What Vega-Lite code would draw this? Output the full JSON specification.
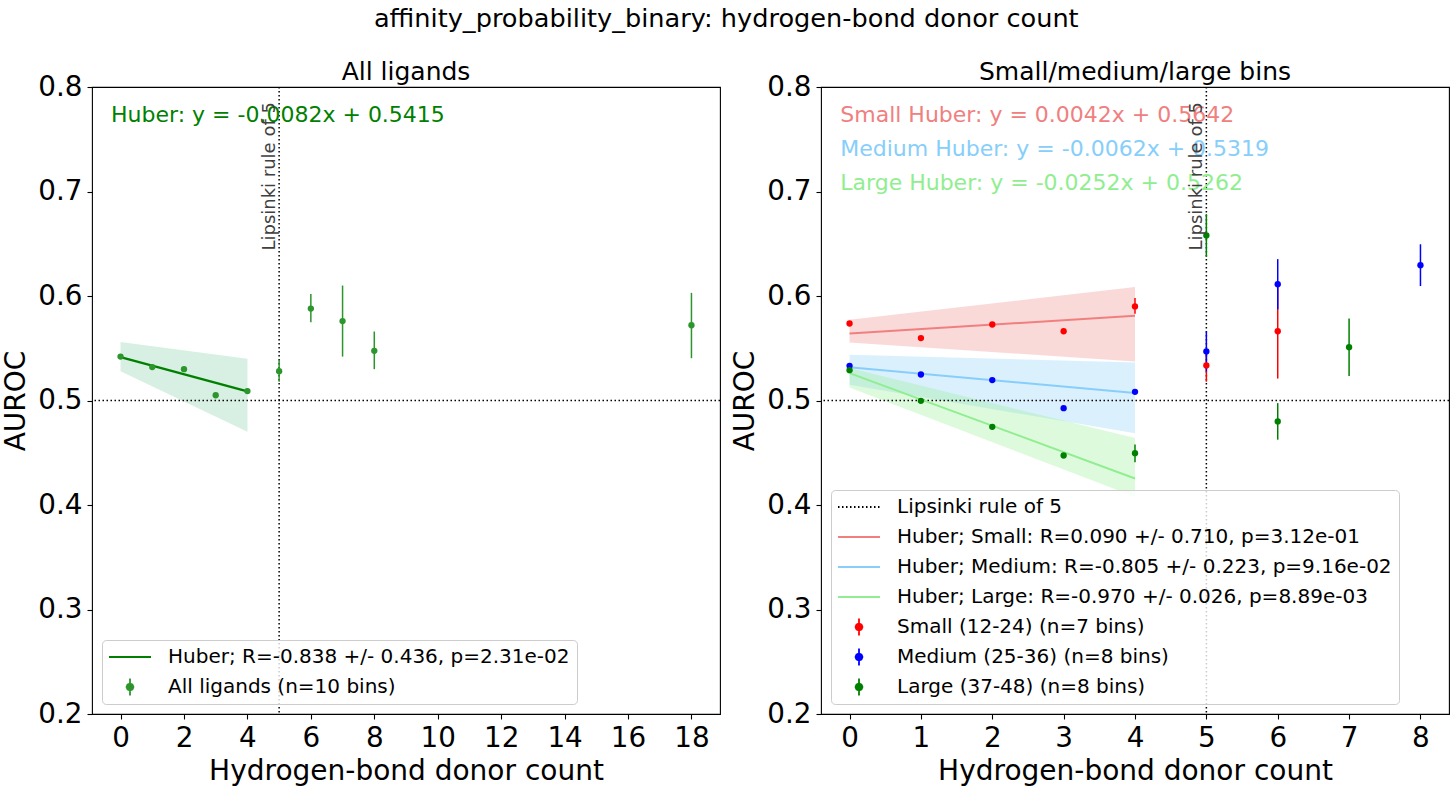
{
  "$schema": "https://vega.github.io/schema/vega-lite/v6.json",
  "padding": {"left": 2, "top": 6, "right": 5, "bottom": 2},
  "title": {
    "text": "affinity_probability_binary: hydrogen-bond donor count",
    "fontSize": 25.6,
    "fontWeight": "normal",
    "anchor": "middle",
    "offset": 27
  },
  "config": {
    "font": "DejaVu Sans",
    "background": "white",
    "view": {"stroke": "black", "strokeWidth": 1.1},
    "axis": {
      "grid": false,
      "domain": false,
      "tickColor": "black",
      "tickSize": 5,
      "tickWidth": 1.1,
      "labelFontSize": 27.8,
      "labelColor": "black",
      "labelPadding": 5,
      "labelFlush": false,
      "labelOverlap": false,
      "titleFontSize": 28,
      "titleFontWeight": "normal",
      "titleColor": "black"
    },
    "axisX": {"titlePadding": 6},
    "axisY": {"titlePadding": 7},
    "title": {"fontSize": 25, "fontWeight": "normal", "color": "black"}
  },
  "spacing": 9,
  "resolve": {
    "scale": {"color": "independent", "fill": "independent"},
    "legend": {"color": "independent"}
  },
  "hconcat": [
    {
      "width": 628,
      "height": 627,
      "title": {"text": "All ligands", "offset": -12},
      "data": {
        "values": [
          {"kind": "band", "x": 0, "lo": 0.528, "hi": 0.556},
          {"kind": "band", "x": 4, "lo": 0.470, "hi": 0.540},
          {"kind": "fit", "x": 0, "y": 0.5415, "legend": "Huber; R=-0.838 +/- 0.436, p=2.31e-02"},
          {"kind": "fit", "x": 4, "y": 0.5087, "legend": "Huber; R=-0.838 +/- 0.436, p=2.31e-02"},
          {"kind": "pt", "x": 0, "y": 0.542, "lo": 0.540, "hi": 0.544, "legend": "All ligands (n=10 bins)"},
          {"kind": "pt", "x": 1, "y": 0.532, "lo": 0.530, "hi": 0.534, "legend": "All ligands (n=10 bins)"},
          {"kind": "pt", "x": 2, "y": 0.530, "lo": 0.528, "hi": 0.532, "legend": "All ligands (n=10 bins)"},
          {"kind": "pt", "x": 3, "y": 0.505, "lo": 0.503, "hi": 0.507, "legend": "All ligands (n=10 bins)"},
          {"kind": "pt", "x": 4, "y": 0.509, "lo": 0.507, "hi": 0.511, "legend": "All ligands (n=10 bins)"},
          {"kind": "pt", "x": 5, "y": 0.528, "lo": 0.518, "hi": 0.539, "legend": "All ligands (n=10 bins)"},
          {"kind": "pt", "x": 6, "y": 0.588, "lo": 0.575, "hi": 0.602, "legend": "All ligands (n=10 bins)"},
          {"kind": "pt", "x": 7, "y": 0.576, "lo": 0.542, "hi": 0.610, "legend": "All ligands (n=10 bins)"},
          {"kind": "pt", "x": 8, "y": 0.5475, "lo": 0.530, "hi": 0.566, "legend": "All ligands (n=10 bins)"},
          {"kind": "pt", "x": 18, "y": 0.572, "lo": 0.5405, "hi": 0.603, "legend": "All ligands (n=10 bins)"},
          {"kind": "eq", "x": -0.30, "y": 0.7668, "label": "Huber: y = -0.0082x + 0.5415"}
        ]
      },
      "layer": [
        {
          "transform": [{"filter": "datum.kind == 'band'"}],
          "mark": {"type": "area", "color": "#3cb371", "opacity": 0.2},
          "encoding": {
            "x": {
              "field": "x", "type": "quantitative",
              "scale": {"domain": [-0.9, 18.9], "nice": false, "zero": false},
              "axis": {"values": [0, 2, 4, 6, 8, 10, 12, 14, 16, 18], "format": "d", "title": "Hydrogen-bond donor count"}
            },
            "y": {
              "field": "lo", "type": "quantitative", "stack": null,
              "scale": {"domain": [0.2, 0.8], "nice": false, "zero": false},
              "axis": {"values": [0.2, 0.3, 0.4, 0.5, 0.6, 0.7, 0.8], "format": ".1f", "title": "AUROC"}
            },
            "y2": {"field": "hi"}
          }
        },
        {
          "data": {"values": [{"ref": 0.5}]},
          "mark": {"type": "rule", "color": "black", "strokeDash": [1.5, 2.5], "strokeWidth": 1.5},
          "encoding": {"y": {"field": "ref", "type": "quantitative"}}
        },
        {
          "data": {"values": [{"ref": 5}]},
          "mark": {"type": "rule", "color": "black", "strokeDash": [1.5, 2.5], "strokeWidth": 1.5},
          "encoding": {"x": {"field": "ref", "type": "quantitative"}}
        },
        {
          "transform": [{"filter": "datum.kind == 'fit'"}],
          "mark": {"type": "line", "strokeWidth": 2.5},
          "encoding": {
            "x": {"field": "x", "type": "quantitative"},
            "y": {"field": "y", "type": "quantitative"},
            "color": {
              "field": "legend", "type": "nominal",
              "scale": {
                "domain": ["Huber; R=-0.838 +/- 0.436, p=2.31e-02", "All ligands (n=10 bins)"],
                "range": ["#008000", "#2c962c"]
              },
              "legend": {
                "title": null,
                "orient": "bottom-left",
                "direction": "vertical",
                "offset": 10,
                "padding": 7,
                "fillColor": "rgba(255,255,255,0.8)",
                "strokeColor": "#cccccc",
                "cornerRadius": 4,
                "labelFontSize": 20,
                "labelColor": "black",
                "labelLimit": 2000,
                "symbolSize": 100,
                "symbolStrokeWidth": 1.8,
                "symbolOffset": 11,
                "labelOffset": 28,
                "rowPadding": 10,
                "encode": {
                  "symbols": {
                    "update": {
                      "shape": {"signal": "indexof(datum.value, 'Huber') == 0 ? 'M-4.2,0H4.2' : 'M0,-1.7V1.7M0.7,0L0.495,0.495L0,0.7L-0.495,0.495L-0.7,0L-0.495,-0.495L0,-0.7L0.495,-0.495Z'"},
                      "strokeJoin": {"value": "round"},
                      "stroke": {"signal": "indexof(datum.value, 'Huber') == 0 ? '#008000' : '#2c962c'"},
                      "fill": {"signal": "indexof(datum.value, 'Huber') == 0 ? '#008000' : '#2c962c'"},
                      "opacity": {"value": 1}
                    }
                  }
                }
              }
            }
          }
        },
        {
          "transform": [{"filter": "datum.kind == 'pt'"}],
          "mark": {"type": "rule", "strokeWidth": 1.5},
          "encoding": {
            "x": {"field": "x", "type": "quantitative"},
            "y": {"field": "lo", "type": "quantitative"},
            "y2": {"field": "hi"},
            "color": {"field": "legend", "type": "nominal"}
          }
        },
        {
          "transform": [{"filter": "datum.kind == 'pt'"}],
          "mark": {"type": "circle", "size": 40, "opacity": 1},
          "encoding": {
            "x": {"field": "x", "type": "quantitative"},
            "y": {"field": "y", "type": "quantitative"},
            "color": {"field": "legend", "type": "nominal"}
          }
        },
        {
          "transform": [{"filter": "datum.kind == 'eq'"}],
          "mark": {"type": "text", "align": "left", "baseline": "alphabetic", "fontSize": 22, "color": "#008000"},
          "encoding": {
            "x": {"field": "x", "type": "quantitative"},
            "y": {"field": "y", "type": "quantitative"},
            "text": {"field": "label"}
          }
        },
        {
          "data": {"values": [{"x": 5, "y": 0.7856, "label": "Lipsinki rule of 5"}]},
          "mark": {"type": "text", "angle": 270, "align": "right", "baseline": "alphabetic", "dy": -4, "fontSize": 18, "color": "#404040"},
          "encoding": {
            "x": {"field": "x", "type": "quantitative"},
            "y": {"field": "y", "type": "quantitative"},
            "text": {"field": "label"}
          }
        }
      ]
    },
    {
      "width": 628,
      "height": 627,
      "title": {"text": "Small/medium/large bins", "offset": -12},
      "data": {
        "values": [
          {"kind": "band", "grp": "Small", "x": 0, "lo": 0.5555, "hi": 0.5772},
          {"kind": "band", "grp": "Small", "x": 4, "lo": 0.5373, "hi": 0.6085},
          {"kind": "band", "grp": "Medium", "x": 0, "lo": 0.515, "hi": 0.5437},
          {"kind": "band", "grp": "Medium", "x": 4, "lo": 0.4687, "hi": 0.5364},
          {"kind": "band", "grp": "Large", "x": 0, "lo": 0.5124, "hi": 0.531},
          {"kind": "band", "grp": "Large", "x": 4, "lo": 0.408, "hi": 0.464},
          {"kind": "vline", "x": 5, "legend": "Lipsinki rule of 5"},
          {"kind": "fit", "x": 0, "y": 0.5642, "legend": "Huber; Small: R=0.090 +/- 0.710, p=3.12e-01"},
          {"kind": "fit", "x": 4, "y": 0.5810, "legend": "Huber; Small: R=0.090 +/- 0.710, p=3.12e-01"},
          {"kind": "fit", "x": 0, "y": 0.5319, "legend": "Huber; Medium: R=-0.805 +/- 0.223, p=9.16e-02"},
          {"kind": "fit", "x": 4, "y": 0.5071, "legend": "Huber; Medium: R=-0.805 +/- 0.223, p=9.16e-02"},
          {"kind": "fit", "x": 0, "y": 0.5262, "legend": "Huber; Large: R=-0.970 +/- 0.026, p=8.89e-03"},
          {"kind": "fit", "x": 4, "y": 0.4254, "legend": "Huber; Large: R=-0.970 +/- 0.026, p=8.89e-03"},
          {"kind": "pt", "x": 0, "y": 0.5737, "lo": 0.5717, "hi": 0.5757, "legend": "Small (12-24) (n=7 bins)"},
          {"kind": "pt", "x": 1, "y": 0.5597, "lo": 0.5577, "hi": 0.5617, "legend": "Small (12-24) (n=7 bins)"},
          {"kind": "pt", "x": 2, "y": 0.5727, "lo": 0.5707, "hi": 0.5747, "legend": "Small (12-24) (n=7 bins)"},
          {"kind": "pt", "x": 3, "y": 0.5663, "lo": 0.5643, "hi": 0.5683, "legend": "Small (12-24) (n=7 bins)"},
          {"kind": "pt", "x": 4, "y": 0.590, "lo": 0.583, "hi": 0.598, "legend": "Small (12-24) (n=7 bins)"},
          {"kind": "pt", "x": 5, "y": 0.5335, "lo": 0.518, "hi": 0.549, "legend": "Small (12-24) (n=7 bins)"},
          {"kind": "pt", "x": 6, "y": 0.5663, "lo": 0.521, "hi": 0.611, "legend": "Small (12-24) (n=7 bins)"},
          {"kind": "pt", "x": 0, "y": 0.5332, "lo": 0.5312, "hi": 0.5352, "legend": "Medium (25-36) (n=8 bins)"},
          {"kind": "pt", "x": 1, "y": 0.5249, "lo": 0.5229, "hi": 0.5269, "legend": "Medium (25-36) (n=8 bins)"},
          {"kind": "pt", "x": 2, "y": 0.5195, "lo": 0.5175, "hi": 0.5215, "legend": "Medium (25-36) (n=8 bins)"},
          {"kind": "pt", "x": 3, "y": 0.4927, "lo": 0.4907, "hi": 0.4947, "legend": "Medium (25-36) (n=8 bins)"},
          {"kind": "pt", "x": 4, "y": 0.5083, "lo": 0.5063, "hi": 0.5103, "legend": "Medium (25-36) (n=8 bins)"},
          {"kind": "pt", "x": 5, "y": 0.5469, "lo": 0.528, "hi": 0.566, "legend": "Medium (25-36) (n=8 bins)"},
          {"kind": "pt", "x": 6, "y": 0.6113, "lo": 0.5873, "hi": 0.6353, "legend": "Medium (25-36) (n=8 bins)"},
          {"kind": "pt", "x": 8, "y": 0.6295, "lo": 0.6095, "hi": 0.6495, "legend": "Medium (25-36) (n=8 bins)"},
          {"kind": "pt", "x": 0, "y": 0.529, "lo": 0.527, "hi": 0.531, "legend": "Large (37-48) (n=8 bins)"},
          {"kind": "pt", "x": 1, "y": 0.4997, "lo": 0.4977, "hi": 0.5017, "legend": "Large (37-48) (n=8 bins)"},
          {"kind": "pt", "x": 2, "y": 0.4748, "lo": 0.4728, "hi": 0.4768, "legend": "Large (37-48) (n=8 bins)"},
          {"kind": "pt", "x": 3, "y": 0.4474, "lo": 0.4454, "hi": 0.4494, "legend": "Large (37-48) (n=8 bins)"},
          {"kind": "pt", "x": 4, "y": 0.4496, "lo": 0.441, "hi": 0.458, "legend": "Large (37-48) (n=8 bins)"},
          {"kind": "pt", "x": 5, "y": 0.6579, "lo": 0.6374, "hi": 0.6784, "legend": "Large (37-48) (n=8 bins)"},
          {"kind": "pt", "x": 6, "y": 0.480, "lo": 0.4625, "hi": 0.4975, "legend": "Large (37-48) (n=8 bins)"},
          {"kind": "pt", "x": 7, "y": 0.551, "lo": 0.5235, "hi": 0.5785, "legend": "Large (37-48) (n=8 bins)"},
          {"kind": "eq", "grp": "Small", "x": -0.13, "y": 0.7668, "label": "Small Huber: y = 0.0042x + 0.5642"},
          {"kind": "eq", "grp": "Medium", "x": -0.13, "y": 0.7340, "label": "Medium Huber: y = -0.0062x + 0.5319"},
          {"kind": "eq", "grp": "Large", "x": -0.13, "y": 0.7014, "label": "Large Huber: y = -0.0252x + 0.5262"}
        ]
      },
      "layer": [
        {
          "transform": [{"filter": "datum.kind == 'band'"}],
          "mark": {"type": "area", "opacity": 0.3},
          "encoding": {
            "x": {
              "field": "x", "type": "quantitative",
              "scale": {"domain": [-0.4, 8.4], "nice": false, "zero": false},
              "axis": {"values": [0, 1, 2, 3, 4, 5, 6, 7, 8], "format": "d", "title": "Hydrogen-bond donor count"}
            },
            "y": {
              "field": "lo", "type": "quantitative", "stack": null,
              "scale": {"domain": [0.2, 0.8], "nice": false, "zero": false},
              "axis": {"values": [0.2, 0.3, 0.4, 0.5, 0.6, 0.7, 0.8], "format": ".1f", "title": "AUROC"}
            },
            "y2": {"field": "hi"},
            "fill": {
              "field": "grp", "type": "nominal",
              "scale": {"domain": ["Small", "Medium", "Large"], "range": ["#F08080", "#87CEFA", "#90EE90"]},
              "legend": null
            }
          }
        },
        {
          "data": {"values": [{"ref": 0.5}]},
          "mark": {"type": "rule", "color": "black", "strokeDash": [1.5, 2.5], "strokeWidth": 1.5},
          "encoding": {"y": {"field": "ref", "type": "quantitative"}}
        },
        {
          "transform": [{"filter": "datum.kind == 'vline'"}],
          "mark": {"type": "rule", "strokeDash": [1.5, 2.5], "strokeWidth": 1.5},
          "encoding": {
            "x": {"field": "x", "type": "quantitative"},
            "color": {
              "field": "legend", "type": "nominal",
              "scale": {
                "domain": [
                  "Lipsinki rule of 5",
                  "Huber; Small: R=0.090 +/- 0.710, p=3.12e-01",
                  "Huber; Medium: R=-0.805 +/- 0.223, p=9.16e-02",
                  "Huber; Large: R=-0.970 +/- 0.026, p=8.89e-03",
                  "Small (12-24) (n=7 bins)",
                  "Medium (25-36) (n=8 bins)",
                  "Large (37-48) (n=8 bins)"
                ],
                "range": ["black", "#F08080", "#87CEFA", "#90EE90", "#ff0000", "#0000ff", "#008000"]
              },
              "legend": {
                "title": null,
                "orient": "bottom-left",
                "direction": "vertical",
                "offset": 10,
                "padding": 7,
                "fillColor": "rgba(255,255,255,0.8)",
                "strokeColor": "#cccccc",
                "cornerRadius": 4,
                "labelFontSize": 20,
                "labelColor": "black",
                "labelLimit": 2000,
                "symbolSize": 100,
                "symbolStrokeWidth": 1.8,
                "symbolOffset": 11,
                "labelOffset": 28,
                "rowPadding": 10,
                "encode": {
                  "symbols": {
                    "update": {
                      "shape": {"signal": "datum.value == 'Lipsinki rule of 5' || indexof(datum.value, 'Huber') == 0 ? 'M-4.2,0H4.2' : 'M0,-1.7V1.7M0.7,0L0.495,0.495L0,0.7L-0.495,0.495L-0.7,0L-0.495,-0.495L0,-0.7L0.495,-0.495Z'"},
                      "strokeJoin": {"value": "round"},
                      "strokeDash": {"signal": "datum.value == 'Lipsinki rule of 5' ? [1.5, 2.5] : [1, 0]"},
                      "stroke": {"signal": "datum.value == 'Lipsinki rule of 5' ? 'black' : indexof(datum.value, 'Huber') == 0 ? (indexof(datum.value, 'Small') > 0 ? '#F08080' : indexof(datum.value, 'Medium') > 0 ? '#87CEFA' : '#90EE90') : (indexof(datum.value, 'Small') == 0 ? '#ff0000' : indexof(datum.value, 'Medium') == 0 ? '#0000ff' : '#008000')"},
                      "fill": {"signal": "datum.value == 'Lipsinki rule of 5' ? 'black' : indexof(datum.value, 'Huber') == 0 ? (indexof(datum.value, 'Small') > 0 ? '#F08080' : indexof(datum.value, 'Medium') > 0 ? '#87CEFA' : '#90EE90') : (indexof(datum.value, 'Small') == 0 ? '#ff0000' : indexof(datum.value, 'Medium') == 0 ? '#0000ff' : '#008000')"},
                      "opacity": {"value": 1}
                    }
                  }
                }
              }
            }
          }
        },
        {
          "transform": [{"filter": "datum.kind == 'fit'"}],
          "mark": {"type": "line", "strokeWidth": 2},
          "encoding": {
            "x": {"field": "x", "type": "quantitative"},
            "y": {"field": "y", "type": "quantitative"},
            "color": {"field": "legend", "type": "nominal"}
          }
        },
        {
          "transform": [{"filter": "datum.kind == 'pt'"}],
          "mark": {"type": "rule", "strokeWidth": 1.5},
          "encoding": {
            "x": {"field": "x", "type": "quantitative"},
            "y": {"field": "lo", "type": "quantitative"},
            "y2": {"field": "hi"},
            "color": {"field": "legend", "type": "nominal"}
          }
        },
        {
          "transform": [{"filter": "datum.kind == 'pt'"}],
          "mark": {"type": "circle", "size": 40, "opacity": 1},
          "encoding": {
            "x": {"field": "x", "type": "quantitative"},
            "y": {"field": "y", "type": "quantitative"},
            "color": {"field": "legend", "type": "nominal"}
          }
        },
        {
          "transform": [{"filter": "datum.kind == 'eq'"}],
          "mark": {"type": "text", "align": "left", "baseline": "alphabetic", "fontSize": 22},
          "encoding": {
            "x": {"field": "x", "type": "quantitative"},
            "y": {"field": "y", "type": "quantitative"},
            "text": {"field": "label"},
            "fill": {"field": "grp", "type": "nominal"}
          }
        },
        {
          "data": {"values": [{"x": 5, "y": 0.7856, "label": "Lipsinki rule of 5"}]},
          "mark": {"type": "text", "angle": 270, "align": "right", "baseline": "alphabetic", "dy": -4, "fontSize": 18, "color": "#404040"},
          "encoding": {
            "x": {"field": "x", "type": "quantitative"},
            "y": {"field": "y", "type": "quantitative"},
            "text": {"field": "label"}
          }
        }
      ]
    }
  ]
}
